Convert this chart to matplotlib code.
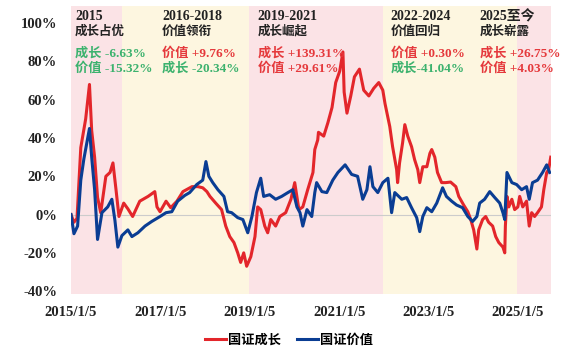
"""Growth vs value index cumulative return, 2015-2025."""

import matplotlib
matplotlib.use("Agg")
import matplotlib.pyplot as plt
import pandas as pd

plt.rcParams['font.family'] = ['Liberation Serif', 'Noto Sans CJK SC', 'DejaVu Sans']

# 国证成长 cumulative return (%)
growth_dates = [
    '2015-01-05', '2015-01-29', '2015-02-23', '2015-03-26', '2015-05-05', '2015-06-05',
    '2015-06-23', '2015-07-17', '2015-08-10', '2015-09-05', '2015-10-17', '2015-11-20',
    '2015-12-14', '2016-01-08', '2016-02-01', '2016-03-11', '2016-04-14', '2016-05-23',
    '2016-07-20', '2016-09-26', '2016-11-20', '2016-12-08', '2017-01-02', '2017-02-20',
    '2017-03-30', '2017-05-20', '2017-07-08', '2017-09-20', '2017-11-08', '2017-12-17',
    '2018-01-20', '2018-02-14', '2018-04-02', '2018-05-20', '2018-06-23', '2018-07-26',
    '2018-08-29', '2018-09-29', '2018-10-23', '2018-11-17', '2018-12-11', '2019-01-14',
    '2019-02-17', '2019-03-11', '2019-04-05', '2019-05-08', '2019-06-01', '2019-06-26',
    '2019-08-05', '2019-09-08', '2019-10-26', '2019-12-08', '2020-01-08', '2020-02-11',
    '2020-03-14', '2020-04-23', '2020-06-05', '2020-06-20', '2020-07-14', '2020-07-20',
    '2020-09-01', '2020-10-05', '2020-11-08', '2020-12-08', '2021-01-10', '2021-02-05',
    '2021-02-15', '2021-03-10', '2021-04-10', '2021-05-10', '2021-06-20', '2021-07-25',
    '2021-09-05', '2021-10-15', '2021-11-25', '2021-12-28', '2022-01-15', '2022-02-23',
    '2022-03-18', '2022-04-20', '2022-04-28', '2022-05-14', '2022-06-08', '2022-06-26',
    '2022-07-20', '2022-08-20', '2022-09-14', '2022-10-10', '2022-10-26', '2022-11-20',
    '2022-12-23', '2023-01-17', '2023-02-01', '2023-02-26', '2023-03-20', '2023-04-23',
    '2023-05-26', '2023-07-05', '2023-08-17', '2023-09-10', '2023-10-20', '2023-11-23',
    '2023-12-17', '2024-01-10', '2024-02-05', '2024-02-20', '2024-03-23', '2024-04-17',
    '2024-05-11', '2024-06-13', '2024-07-08', '2024-08-02', '2024-09-05', '2024-09-20',
    '2024-09-25', '2024-10-08', '2024-10-23', '2024-11-17', '2024-12-10', '2025-01-05',
    '2025-01-20', '2025-02-14', '2025-03-17', '2025-04-08', '2025-04-28', '2025-05-22',
    '2025-06-15', '2025-07-17', '2025-08-05', '2025-08-29', '2025-09-14', '2025-10-01',
]
growth_values = [
    0, -4, -2, 35, 50, 68,
    44, 30, 9, 1, 20, 22,
    27, 13, -1, 6, 3, -1,
    7, 9.5, 12, 4, 1.5, 7,
    3.6, 7, 12, 14.6, 14.6, 14,
    12, 9.5, 6, 2.6, -6, -11.5,
    -14.6, -20, -25, -20, -27, -22,
    -11.5, 4, 2.6, -6, -9.5, -2.6,
    -6, -1, 1, 8, 16.7, 2.6,
    4, 13, 22, 34, 39, 43,
    41, 48, 56, 69, 75, 85,
    64, 53, 62, 72, 76, 65,
    62, 66, 69, 65, 58, 46,
    35.5, 23.5, 16.7, 27, 37.6, 47,
    41, 35.5, 28.7, 23.5, 16.7, 25,
    25, 32, 34, 30, 22, 16.7,
    16.7, 17, 14.6, 9.5, 5, 1.5,
    -2.6, -8, -18, -8, -2.6, -1,
    -4, -6, -11.5, -14.6, -17, -20,
    -6, 9.5, 4, 8, 2.6, 4,
    9.5, 4, 7, -6, 1, -1,
    1, 4, 13, 22, 23.5, 30,
]

# 国证价值 cumulative return (%)
value_dates = [
    '2015-01-05', '2015-01-29', '2015-02-28', '2015-03-26', '2015-04-20', '2015-06-05',
    '2015-06-23', '2015-07-17', '2015-08-10', '2015-09-15', '2015-11-01', '2015-12-05',
    '2015-12-30', '2016-01-23', '2016-02-25', '2016-04-14', '2016-05-17', '2016-07-05',
    '2016-09-01', '2016-10-26', '2017-01-02', '2017-02-20', '2017-04-08', '2017-05-26',
    '2017-07-23', '2017-09-01', '2017-10-29', '2017-12-17', '2018-01-12', '2018-02-05',
    '2018-03-09', '2018-04-20', '2018-06-08', '2018-07-08', '2018-08-10', '2018-09-29',
    '2018-11-10', '2018-12-20', '2019-01-23', '2019-03-01', '2019-04-05', '2019-04-29',
    '2019-06-17', '2019-08-05', '2019-09-23', '2019-11-13', '2019-12-23', '2020-01-26',
    '2020-02-20', '2020-03-14', '2020-04-17', '2020-05-26', '2020-06-20', '2020-07-05',
    '2020-08-17', '2020-09-26', '2020-11-14', '2020-12-26', '2021-02-23', '2021-04-17',
    '2021-06-05', '2021-07-17', '2021-08-20', '2021-09-14', '2021-10-08', '2021-11-17',
    '2021-12-28', '2022-02-08', '2022-03-10', '2022-04-05', '2022-06-01', '2022-07-11',
    '2022-08-20', '2022-10-01', '2022-10-26', '2022-11-20', '2022-12-23', '2023-02-01',
    '2023-03-14', '2023-05-01', '2023-06-01', '2023-07-14', '2023-08-23', '2023-10-11',
    '2023-11-23', '2024-01-01', '2024-02-05', '2024-02-28', '2024-04-08', '2024-05-20',
    '2024-06-29', '2024-08-10', '2024-09-05', '2024-09-20', '2024-10-08', '2024-11-17',
    '2024-12-26', '2025-02-05', '2025-03-17', '2025-04-08', '2025-05-05', '2025-06-15',
    '2025-07-26', '2025-08-29', '2025-09-22',
]
value_values = [
    0, -10, -6, 18, 29, 45,
    30, 13, -13, 1, 4, 8,
    -3, -17, -11, -8, -11.5, -9.5,
    -6, -3.6, -1, 1, 1.5, 7,
    10, 11.5, 15.7, 18, 27.7, 20,
    16.7, 13, 9.5, 1.5, 1, -1.6,
    -2.6, -9.5, -1, 11.5, 19, 9.5,
    10.4, 8, 9.5, 11.5, 13, 4,
    1, -6, 2.6, -1, 11.5, 16.7,
    12, 11.5, 18, 22, 26, 21,
    20, 8, 13, 25, 14.6, 11.5,
    16.7, 19, 1, 11.5, 8, 8.9,
    3.6, -1.6, -8.9, -1, 3.6, 1.5,
    6, 14, 9.5, 7, 5, 3.6,
    -1, -3.6, -1, 6, 8, 12,
    9, 6, 1, -2.6, 22, 16.7,
    15.7, 13, 14.6, 8, 16.7, 18,
    22, 26, 22,
]

# shaded regimes
regime_starts = ['2015-01-01', '2016-02-25', '2018-12-28', '2021-12-31', '2024-12-31']
regime_ends = ['2016-02-25', '2018-12-28', '2021-12-31', '2024-12-31', '2025-10-10']
regime_colors = ['#fbe3e6', '#fdf6e0', '#fbe3e6', '#fdf6e0', '#fbe3e6']

# regime annotations
regime_text_x = ['2015-02-07', '2017-01-17', '2019-03-11', '2022-03-03', '2024-02-28']
regime_years = ['2015', '2016-2018', '2019-2021', '2022-2024', '2025至今']
regime_titles = ['成长占优', '价值领衔', '成长崛起', '价值回归', '成长崭露']
regime_line1 = ['成长 -6.63%', '价值 +9.76%', '成长 +139.31%', '价值 +0.30%', '成长 +26.75%']
regime_line2 = ['价值 -15.32%', '成长 -20.34%', '价值 +29.61%', '成长-41.04%', '价值 +4.03%']

xtick_dates = ['2015-01-05', '2017-01-05', '2019-01-05', '2021-01-05', '2023-01-05', '2025-01-05']
xtick_labels = ['2015/1/5', '2017/1/5', '2019/1/5', '2021/1/5', '2023/1/5', '2025/1/5']
ytick_values = [-40, -20, 0, 20, 40, 60, 80, 100]

RED = '#e3262b'
BLUE = '#0a3d93'
TXT_RED = '#e5393c'
TXT_GREEN = '#3cb26e'


def text_color(s):
    return TXT_RED if '+' in s else TXT_GREEN


fig = plt.figure(figsize=(5.74, 3.53), dpi=100)
ax = fig.add_axes([71 / 574, 1 - 294 / 353, 480 / 574, 288 / 353])

for s, e, c in zip(regime_starts, regime_ends, regime_colors):
    ax.axvspan(pd.Timestamp(s), pd.Timestamp(e), color=c, lw=0, zorder=0)

ax.axhline(0, color='#cccccc', lw=0.8, zorder=1)

ax.plot(pd.to_datetime(growth_dates), growth_values, color=RED, lw=2.2,
        label='国证成长', zorder=3)
ax.plot(pd.to_datetime(value_dates), value_values, color=BLUE, lw=2.2,
        label='国证价值', zorder=4)

ax.set_xlim(pd.Timestamp('2015-01-05'), pd.Timestamp('2025-10-03'))
ax.set_ylim(-41.5, 109)

ax.set_yticks(ytick_values)
ax.set_yticklabels([f'{v}%' for v in ytick_values])
ax.set_xticks(pd.to_datetime(xtick_dates))
ax.set_xticklabels(xtick_labels)
ax.tick_params(axis='y', length=0, pad=10, labelsize=10.5, colors='#222222')
ax.tick_params(axis='x', length=0, pad=9, labelsize=10.5, colors='#222222')
for lbl in ax.get_xticklabels() + ax.get_yticklabels():
    lbl.set_fontweight('bold')

for sp in ax.spines.values():
    sp.set_visible(False)

for x, yr, title, l1, l2 in zip(regime_text_x, regime_years, regime_titles,
                                regime_line1, regime_line2):
    xd = pd.Timestamp(x)
    ax.text(xd, 103.4, yr, fontsize=10, fontweight='bold', color='#222222', va='center')
    ax.text(xd, 95.6, title, fontsize=9, fontweight='bold', color='#222222', va='center')
    ax.text(xd, 84, l1, fontsize=9.5, fontweight='bold', color=text_color(l1), va='center')
    ax.text(xd, 76.2, l2, fontsize=9.5, fontweight='bold', color=text_color(l2), va='center')

leg = fig.legend(loc='center', bbox_to_anchor=(289 / 574, 1 - 340 / 353), ncol=2,
                 frameon=False, handlelength=1.6, handletextpad=0.15, columnspacing=1.2,
                 prop={'weight': 'bold', 'size': 9.5})

fig.savefig('out.png', dpi=100)
plt.close(fig)
